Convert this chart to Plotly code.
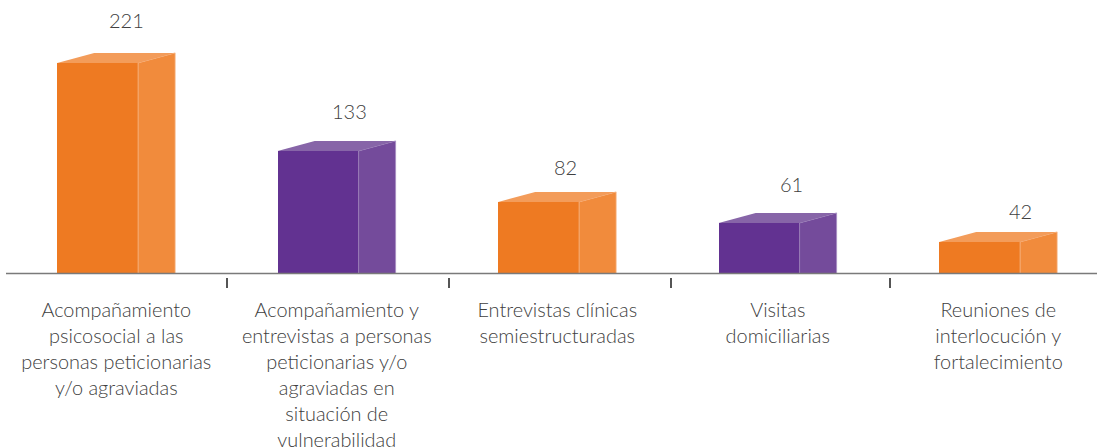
import plotly.graph_objects as go

categories = [
    "Acompañamiento<br>psicosocial a las<br>personas peticionarias<br>y/o agraviadas",
    "Acompañamiento y<br>entrevistas a personas<br>peticionarias y/o<br>agraviadas en<br>situación de<br>vulnerabilidad",
    "Entrevistas clínicas<br>semiestructuradas",
    "Visitas<br>domiciliarias",
    "Reuniones de<br>interlocución y<br>fortalecimiento",
]
values = [221, 133, 82, 61, 42]
front_colors = ["#EE7A22", "#623291", "#EE7A22", "#623291", "#EE7A22"]
side_colors = ["#F18B3C", "#744B9B", "#F18B3C", "#744B9B", "#F18B3C"]
top_colors = ["#F39C5A", "#8765A8", "#F39C5A", "#8765A8", "#F39C5A"]
edge_colors = ["#F6B483", "#A78FC2", "#F6B483", "#A78FC2", "#F6B483"]
label_dx = [10, 13, 8, 14, 22]
label_dy = [43, 40, 35, 39, 31]
tick_positions = [0.502, 1.508, 2.514, 3.509]

W, H = 1097, 448
L = 6
AXIS_PX = 273.5
Y_MIN = 10.4
FRONT = 0.367
START = -0.268
DEPTH_X = 0.168
DEPTH_Y = 10
FONT = "Lato"
TEXT = "#404040"
AXIS = "#7a7a7a"

xs = list(range(len(values)))
fig = go.Figure()

fig.add_trace(go.Bar(x=xs, y=values, width=FRONT, offset=START,
                     marker=dict(color=front_colors, line=dict(width=0)),
                     hoverinfo="x+y", showlegend=False))

for x, v, sc, tc, ec in zip(xs, values, side_colors, top_colors, edge_colors):
    r = x + START + FRONT
    l = x + START
    fig.add_trace(go.Scatter(
        x=[r, r, r + DEPTH_X, r + DEPTH_X, r], y=[Y_MIN, v, v + DEPTH_Y, Y_MIN, Y_MIN],
        mode="lines", fill="toself", fillcolor=sc, line=dict(color=ec, width=0.8),
        hoverinfo="skip", showlegend=False))
    fig.add_trace(go.Scatter(
        x=[l, l + DEPTH_X, r + DEPTH_X, r, l], y=[v, v + DEPTH_Y, v + DEPTH_Y, v, v],
        mode="lines", fill="toself", fillcolor=tc, line=dict(color=tc, width=0),
        hoverinfo="skip", showlegend=False))

# helper trace so the boundary tick axis is rendered
fig.add_trace(go.Scatter(x=[0], y=[Y_MIN], xaxis="x2", mode="markers", opacity=0,
                         hoverinfo="skip", showlegend=False))

x_range = [-0.5, -0.5 + (W - L) / 220.5]
fig.update_layout(
    width=W, height=H,
    margin=dict(l=L, r=0, t=0, b=0, autoexpand=False),
    paper_bgcolor="white", plot_bgcolor="white",
    bargap=0,
    font=dict(family=FONT, color=TEXT, size=20, weight=300),
    xaxis=dict(range=x_range, tickmode="array", tickvals=xs, ticktext=categories,
               ticks="", showgrid=False, zeroline=False, showline=False, automargin=False,
               ticklabelstandoff=23,
               tickfont=dict(family=FONT, color=TEXT, size=19.9, weight=300), tickangle=0),
    xaxis2=dict(range=x_range, overlaying="x", anchor="free", automargin=False,
                position=(H - AXIS_PX - 3) / H, side="bottom",
                tickmode="array", tickvals=tick_positions,
                showticklabels=False, ticks="outside", ticklen=10, tickwidth=1.5,
                tickcolor="#555555", showgrid=False, zeroline=False, showline=False),
    yaxis=dict(domain=[(H - AXIS_PX) / H, 1], range=[Y_MIN, Y_MIN + AXIS_PX],
               visible=False, showgrid=False, automargin=False),
    shapes=[dict(type="line", xref="paper", yref="paper", x0=0, x1=1.02,
                 y0=(H - AXIS_PX) / H, y1=(H - AXIS_PX) / H,
                 line=dict(color=AXIS, width=1.5), layer="above")],
    annotations=[
        dict(x=x, y=v, text=str(v), showarrow=False, xanchor="center", yanchor="middle",
             xshift=dx, yshift=dy, font=dict(family=FONT, color=TEXT, size=20, weight=300))
        for x, v, dx, dy in zip(xs, values, label_dx, label_dy)
    ],
)

fig.write_html("out.html", config=dict(displayModeBar=False),
               post_script="document.body.style.margin='0';document.body.style.overflow='hidden';")
